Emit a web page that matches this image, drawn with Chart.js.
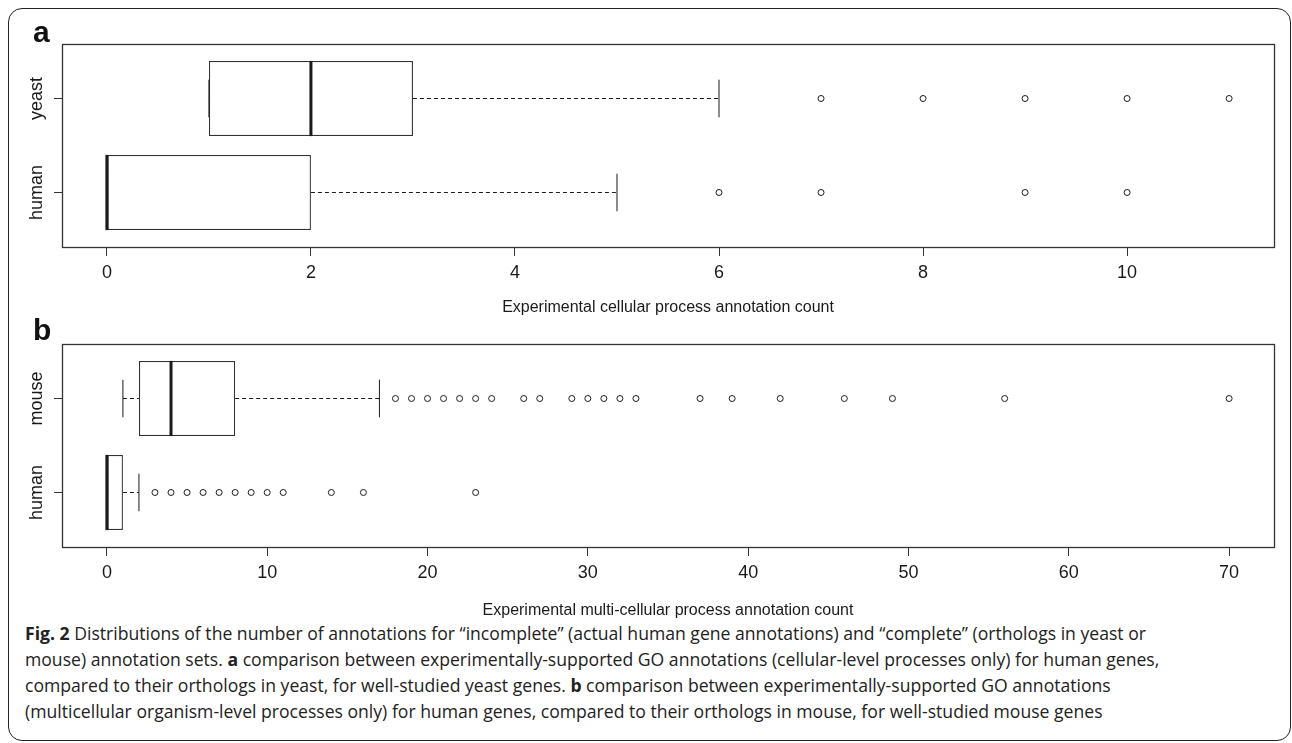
<!DOCTYPE html>
<html>
<head>
<meta charset="utf-8">
<script src="https://cdn.jsdelivr.net/npm/chart.js@4.4.0/dist/chart.umd.min.js"></script>
<style>
  body { margin: 0; background: #fff; width: 1292px; height: 743px; position: relative; overflow: hidden; font-family: 'Liberation Sans', Arial, sans-serif; }
  .frame { position: absolute; left: 8px; top: 8px; width: 1283px; height: 733px; border: 1.5px solid #222; border-radius: 14px; box-sizing: border-box; }
  canvas { position: absolute; left: 0; }
  #chartA { top: 0; }
  #chartB { top: 300px; }
  .panel { position: absolute; left: 33px; font: bold 30px 'Liberation Sans', Arial, sans-serif; line-height: 30px; color: #111; }
  .caption { position: absolute; left: 25px; top: 620px; font: 17.6px 'Open Sans', sans-serif; line-height: 26px; color: #222; white-space: nowrap; }
</style>
</head>
<body>
<div class="frame"></div>
<canvas id="chartA" width="1292" height="320"></canvas>
<canvas id="chartB" width="1292" height="320"></canvas>
<div class="panel" style="top:17px">a</div>
<div class="panel" style="top:315px">b</div>
<div class="caption"><b>Fig. 2</b> Distributions of the number of annotations for “incomplete” (actual human gene annotations) and “complete” (orthologs in yeast or<br>mouse) annotation sets. <b>a</b> comparison between experimentally-supported GO annotations (cellular-level processes only) for human genes,<br>compared to their orthologs in yeast, for well-studied yeast genes. <b>b</b> comparison between experimentally-supported GO annotations<br>(multicellular organism-level processes only) for human genes, compared to their orthologs in mouse, for well-studied mouse genes</div>

<script>
// panel a : cellular process counts
const groupsA = ['human', 'yeast']
const q1A = [0, 1]
const medianA = [0, 2]
const q3A = [2, 3]
const lowA = [0, 1]
const highA = [5, 6]
const outliersA = [[6, 7, 9, 10], [7, 8, 9, 10, 11]]
const ticksA = [0, 2, 4, 6, 8, 10]

// panel b : multi-cellular process counts
const groupsB = ['human', 'mouse']
const q1B = [0, 2]
const medianB = [0, 4]
const q3B = [1, 8]
const lowB = [0, 1]
const highB = [2, 17]
const outliersB = [
    [3, 4, 5, 6, 7, 8, 9, 10, 11, 14, 16, 23],
    [18, 19, 20, 21, 22, 23, 24, 26, 27, 29, 30, 31, 32, 33, 37, 39, 42, 46, 49, 56, 70]
]
const ticksB = [0, 10, 20, 30, 40, 50, 60, 70]

const ink = '#1a1a1a'

const plotBox = {
    id: 'plotBox',
    afterDatasetsDraw (chart) {
        const {ctx, chartArea: {left, top, right, bottom}} = chart
        ctx.save()
        ctx.strokeStyle = '#333'
        ctx.lineWidth = 1.3
        ctx.strokeRect(left + 0.5, top + 0.5, right - left, bottom - top)
        ctx.restore()
    }
}

function seg (data, width, dash) {
    return {
        type: 'line', data, borderColor: ink, borderWidth: width, borderDash: dash || [],
        pointRadius: 0, fill: false, order: 0
    }
}

function boxChart (id, groups, q1, med, q3, low, high, outliers, ticks, xMin, xMax, title, titleBottom) {
    const datasets = [{
        type: 'bar',
        indexAxis: 'y',
        data: groups.map((g, i) => ({x: [q1[i], q3[i]], y: i + 1})),
        backgroundColor: '#fff',
        borderColor: '#333',
        borderWidth: 1.3,
        borderSkipped: false,
        categoryPercentage: 1,
        barPercentage: 0.8,
        order: 10
    }]
    groups.forEach((g, i) => {
        const y = i + 1
        datasets.push(seg([{x: low[i], y}, {x: q1[i], y}], 1, [4, 3]))
        datasets.push(seg([{x: q3[i], y}, {x: high[i], y}], 1, [4, 3]))
        datasets.push(seg([{x: low[i], y: y - 0.2}, {x: low[i], y: y + 0.2}], 1))
        datasets.push(seg([{x: high[i], y: y - 0.2}, {x: high[i], y: y + 0.2}], 1))
        datasets.push(seg([{x: med[i], y: y - 0.4}, {x: med[i], y: y + 0.4}], 3))
        datasets.push({
            type: 'scatter',
            data: outliers[i].map(v => ({x: v, y})),
            pointStyle: 'circle',
            pointRadius: 3,
            borderWidth: 1,
            borderColor: ink,
            backgroundColor: 'rgba(0,0,0,0)',
            order: 0
        })
    })

    return new Chart(document.getElementById(id), {
        type: 'bar',
        data: {datasets},
        options: {
            responsive: false,
            animation: false,
            events: [],
            layout: {padding: {top: 44, right: 18, left: 0, bottom: 0}},
            plugins: {legend: {display: false}, tooltip: {enabled: false}},
            scales: {
                x: {
                    type: 'linear',
                    min: xMin,
                    max: xMax,
                    offset: false,
                    afterBuildTicks: s => { s.ticks = ticks.map(v => ({value: v})) },
                    afterFit: s => { s.height = 73 },
                    border: {display: false},
                    grid: {offset: false, drawOnChartArea: false, drawTicks: true, tickLength: 9, color: '#333'},
                    ticks: {color: ink, font: {family: 'Liberation Sans', size: 18}, padding: 6, maxRotation: 0, autoSkip: false},
                    title: {
                        display: true, text: title, color: ink,
                        font: {family: 'Liberation Sans', size: 16},
                        padding: {top: 0, bottom: titleBottom}
                    }
                },
                y: {
                    type: 'linear',
                    min: 0.42,
                    max: 2.58,
                    offset: false,
                    afterBuildTicks: s => { s.ticks = groups.map((g, i) => ({value: i + 1})) },
                    afterFit: s => { s.width = 62 },
                    border: {display: false},
                    grid: {offset: false, drawOnChartArea: false, drawTicks: true, tickLength: 8, color: '#333'},
                    ticks: {
                        color: ink, font: {family: 'Liberation Sans', size: 18},
                        callback: v => groups[v - 1],
                        minRotation: 90, maxRotation: 90, crossAlign: 'center', padding: -11, autoSkip: false
                    }
                }
            }
        },
        plugins: [plotBox]
    })
}

boxChart('chartA', groupsA, q1A, medianA, q3A, lowA, highA, outliersA, ticksA, -0.44, 11.44,
    'Experimental cellular process annotation count', 3)
boxChart('chartB', groupsB, q1B, medianB, q3B, lowB, highB, outliersB, ticksB, -2.8, 72.8,
    'Experimental multi-cellular process annotation count', 0)
</script>
</body>
</html>
